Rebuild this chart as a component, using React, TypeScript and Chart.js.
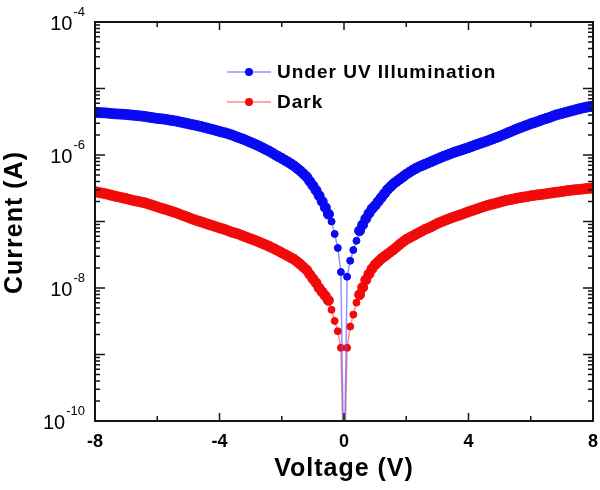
import { useEffect, useRef } from "react";
import { Chart, registerables } from "chart.js";
Chart.register(...registerables);

// Voltage sweep (V)
const voltages = [
  -8.0, -7.9, -7.8, -7.7, -7.6, -7.5, -7.4, -7.3, -7.2, -7.1,
  -7.0, -6.9, -6.8, -6.7, -6.6, -6.5, -6.4, -6.3, -6.2, -6.1,
  -6.0, -5.9, -5.8, -5.7, -5.6, -5.5, -5.4, -5.3, -5.2, -5.1,
  -5.0, -4.9, -4.8, -4.7, -4.6, -4.5, -4.4, -4.3, -4.2, -4.1,
  -4.0, -3.9, -3.8, -3.7, -3.6, -3.5, -3.4, -3.3, -3.2, -3.1,
  -3.0, -2.9, -2.8, -2.7, -2.6, -2.5, -2.4, -2.3, -2.2, -2.1,
  -2.0, -1.9, -1.8, -1.7, -1.6, -1.5, -1.4, -1.3, -1.2, -1.1,
  -1.0,
  -0.9, -0.8, -0.7, -0.6, -0.5, -0.4, -0.3, -0.2, -0.1, 0.0, 0.1, 0.2, 0.3, 0.4, 0.5, 0.6, 0.7, 0.8, 0.9,
  1.0, 1.1, 1.2, 1.3, 1.4, 1.5, 1.6, 1.7, 1.8, 1.9,
  2.0, 2.1, 2.2, 2.3, 2.4, 2.5, 2.6, 2.7, 2.8, 2.9,
  3.0, 3.1, 3.2, 3.3, 3.4, 3.5, 3.6, 3.7, 3.8, 3.9,
  4.0, 4.1, 4.2, 4.3, 4.4, 4.5, 4.6, 4.7, 4.8, 4.9,
  5.0, 5.1, 5.2, 5.3, 5.4, 5.5, 5.6, 5.7, 5.8, 5.9,
  6.0, 6.1, 6.2, 6.3, 6.4, 6.5, 6.6, 6.7, 6.8, 6.9,
  7.0, 7.1, 7.2, 7.3, 7.4, 7.5, 7.6, 7.7, 7.8, 7.9,
  8.0,
];

// Current under UV illumination (A)
const uvCurrent = [
  4.37e-6, 4.35e-6, 4.32e-6, 4.3e-6, 4.27e-6, 4.22e-6, 4.17e-6, 4.15e-6, 4.12e-6, 4.1e-6,
  4.07e-6, 4.02e-6, 3.98e-6, 3.93e-6, 3.89e-6, 3.85e-6, 3.8e-6, 3.73e-6, 3.67e-6, 3.61e-6,
  3.55e-6, 3.51e-6, 3.47e-6, 3.41e-6, 3.35e-6, 3.29e-6, 3.24e-6, 3.16e-6, 3.09e-6, 3.02e-6,
  2.95e-6, 2.88e-6, 2.82e-6, 2.75e-6, 2.69e-6, 2.61e-6, 2.54e-6, 2.47e-6, 2.4e-6, 2.33e-6,
  2.26e-6, 2.2e-6, 2.14e-6, 2.07e-6, 2.0e-6, 1.92e-6, 1.84e-6, 1.77e-6, 1.7e-6, 1.62e-6,
  1.55e-6, 1.48e-6, 1.41e-6, 1.34e-6, 1.27e-6, 1.2e-6, 1.14e-6, 1.07e-6, 1.0e-6, 9.45e-7,
  8.9e-7, 8.35e-7, 7.85e-7, 7.33e-7, 6.84e-7, 6.27e-7, 5.75e-7, 5.19e-7, 4.68e-7, 4.03e-7,
  3.47e-7,
  2.95e-7, 2.45e-7, 2.0e-7, 1.62e-7, 1.29e-7, 1.0e-7, 6.5e-8, 4.0e-8, 1.74e-8, 1e-11,
  1.48e-8, 2.57e-8, 3.72e-8, 5.13e-8, 7.24e-8, 8.91e-8, 1.1e-7, 1.32e-7, 1.55e-7,
  1.74e-7, 2.0e-7, 2.29e-7, 2.63e-7, 3.02e-7, 3.35e-7, 3.72e-7, 4.03e-7, 4.37e-7, 4.73e-7,
  5.13e-7, 5.5e-7, 5.89e-7, 6.24e-7, 6.61e-7, 6.92e-7, 7.24e-7, 7.58e-7, 7.94e-7, 8.32e-7,
  8.71e-7, 9.12e-7, 9.55e-7, 9.94e-7, 1.035e-6, 1.08e-6, 1.12e-6, 1.16e-6, 1.2e-6, 1.245e-6,
  1.29e-6, 1.345e-6, 1.4e-6, 1.455e-6, 1.51e-6, 1.565e-6, 1.62e-6, 1.69e-6, 1.76e-6, 1.83e-6,
  1.91e-6, 2.0e-6, 2.09e-6, 2.19e-6, 2.29e-6, 2.4e-6, 2.51e-6, 2.61e-6, 2.72e-6, 2.83e-6,
  2.95e-6, 3.05e-6, 3.16e-6, 3.29e-6, 3.43e-6, 3.55e-6, 3.67e-6, 3.82e-6, 3.98e-6, 4.1e-6,
  4.22e-6, 4.34e-6, 4.47e-6, 4.6e-6, 4.73e-6, 4.87e-6, 5.01e-6, 5.13e-6, 5.25e-6, 5.34e-6,
  5.43e-6,
];

// Dark current (A)
const darkCurrent = [
  2.82e-7, 2.75e-7, 2.69e-7, 2.63e-7, 2.57e-7, 2.5e-7, 2.43e-7, 2.37e-7, 2.32e-7, 2.26e-7,
  2.21e-7, 2.15e-7, 2.09e-7, 2.04e-7, 2.0e-7, 1.95e-7, 1.91e-7, 1.84e-7, 1.78e-7, 1.72e-7,
  1.66e-7, 1.6e-7, 1.55e-7, 1.5e-7, 1.45e-7, 1.4e-7, 1.35e-7, 1.3e-7, 1.245e-7, 1.2e-7,
  1.15e-7, 1.1e-7, 1.06e-7, 1.02e-7, 9.9e-8, 9.55e-8, 9.2e-8, 8.9e-8, 8.6e-8, 8.3e-8,
  8.0e-8, 7.75e-8, 7.5e-8, 7.2e-8, 6.9e-8, 6.7e-8, 6.5e-8, 6.22e-8, 5.96e-8, 5.72e-8,
  5.5e-8, 5.28e-8, 5.07e-8, 4.84e-8, 4.62e-8, 4.42e-8, 4.22e-8, 4.0e-8, 3.8e-8, 3.59e-8,
  3.39e-8, 3.2e-8, 3.02e-8, 2.85e-8, 2.69e-8, 2.47e-8, 2.26e-8, 2.05e-8, 1.86e-8, 1.6e-8,
  1.38e-8,
  1.2e-8, 1.0e-8, 8.7e-9, 7.6e-9, 6.5e-9, 4.7e-9, 3.2e-9, 2.24e-9, 1.26e-9, 1e-11,
  1.26e-9, 2.63e-9, 3.98e-9, 6.03e-9, 7.94e-9, 1.02e-8, 1.32e-8, 1.62e-8, 1.95e-8,
  2.24e-8, 2.48e-8, 2.75e-8, 2.99e-8, 3.24e-8, 3.51e-8, 3.8e-8, 4.17e-8, 4.57e-8, 4.95e-8,
  5.37e-8, 5.69e-8, 6.03e-8, 6.38e-8, 6.76e-8, 7.16e-8, 7.59e-8, 7.94e-8, 8.32e-8, 8.81e-8,
  9.33e-8, 9.77e-8, 1.02e-7, 1.065e-7, 1.11e-7, 1.155e-7, 1.2e-7, 1.245e-7, 1.29e-7, 1.345e-7,
  1.4e-7, 1.45e-7, 1.5e-7, 1.56e-7, 1.62e-7, 1.68e-7, 1.74e-7, 1.79e-7, 1.84e-7, 1.89e-7,
  1.95e-7, 2.01e-7, 2.07e-7, 2.11e-7, 2.16e-7, 2.21e-7, 2.26e-7, 2.3e-7, 2.34e-7, 2.38e-7,
  2.43e-7, 2.47e-7, 2.51e-7, 2.54e-7, 2.57e-7, 2.61e-7, 2.66e-7, 2.7e-7, 2.75e-7, 2.78e-7,
  2.82e-7, 2.87e-7, 2.92e-7, 2.95e-7, 2.99e-7, 3.02e-7, 3.05e-7, 3.09e-7, 3.13e-7, 3.16e-7,
  3.2e-7,
];

const seriesNames = ["Under UV Illumination", "Dark"];
const xMajorTicks = [-8, -4, 0, 4, 8];
const xMinorTicks = [-6, -2, 2, 6];
const yDecades = [-10, -9, -8, -7, -6, -5, -4];
const yLabelExponents = [-4, -6, -8, -10];
const xTitle = "Voltage (V)";
const yTitle = "Current (A)";

const BLUE = "#0a0af2";
const RED = "#f20a0a";
const BLUE_LINE = "rgba(90,90,255,0.65)";
const RED_LINE = "rgba(240,80,80,0.65)";

// markers are drawn smaller where they separate near 0 V
const markerRadius = (ctx: any) => {
  const raw = ctx.raw;
  if (!raw) return 5;
  return Math.abs(raw.x) <= 0.45 ? 3.5 : 5;
};

export default function App() {
  const ref = useRef<HTMLCanvasElement>(null);

  useEffect(() => {
    const canvas = ref.current!;
    const framePlugin = {
      id: "frame",
      afterDraw(chart: any) {
        const ctx = chart.ctx as CanvasRenderingContext2D;
        const { left, right, top, bottom } = chart.chartArea;
        const xs = chart.scales.x;
        const ys = chart.scales.y;
        ctx.save();
        ctx.strokeStyle = "#151515";
        ctx.lineWidth = 2;
        ctx.strokeRect(left, top, right - left, bottom - top);

        ctx.lineWidth = 1.5;
        ctx.beginPath();
        const xt = (v: number, len: number) => {
          const px = xs.getPixelForValue(v);
          ctx.moveTo(px, bottom);
          ctx.lineTo(px, bottom - len);
          ctx.moveTo(px, top);
          ctx.lineTo(px, top + len);
        };
        xMajorTicks.forEach((v) => xt(v, 8));
        xMinorTicks.forEach((v) => xt(v, 5));
        const yt = (v: number, len: number) => {
          const py = ys.getPixelForValue(v);
          ctx.moveTo(left, py);
          ctx.lineTo(left + len, py);
          ctx.moveTo(right, py);
          ctx.lineTo(right - len, py);
        };
        yDecades.forEach((d) => {
          yt(Math.pow(10, d), 10);
          if (d < -4) {
            for (let m = 2; m <= 9; m++) yt(m * Math.pow(10, d), 5);
          }
        });
        ctx.stroke();

        ctx.fillStyle = "#000";
        ctx.font = "bold 18px 'Liberation Sans', Arial, sans-serif";
        ctx.textAlign = "center";
        ctx.textBaseline = "middle";
        xMajorTicks.forEach((v) => {
          ctx.fillText(String(v), xs.getPixelForValue(v), bottom + 21);
        });

        yLabelExponents.forEach((e) => {
          const py = ys.getPixelForValue(Math.pow(10, e));
          const base = "10";
          const exp = String(e);
          ctx.font = "20px 'Liberation Sans', Arial, sans-serif";
          const wb = ctx.measureText(base).width;
          ctx.font = "13px 'Liberation Sans', Arial, sans-serif";
          const we = ctx.measureText(exp).width;
          const rightEdge = left - 11;
          const x0 = rightEdge - we - wb;
          ctx.textAlign = "left";
          ctx.textBaseline = "middle";
          ctx.font = "20px 'Liberation Sans', Arial, sans-serif";
          ctx.fillText(base, x0, py + 2);
          ctx.font = "13px 'Liberation Sans', Arial, sans-serif";
          ctx.fillText(exp, x0 + wb + 1, py - 10);
        });

        ctx.font = "bold 25px 'Liberation Sans', Arial, sans-serif";
        (ctx as any).letterSpacing = "1px";
        ctx.textAlign = "center";
        ctx.textBaseline = "middle";
        ctx.fillText(xTitle, (left + right) / 2, bottom + 48);
        ctx.save();
        ctx.translate(15, (top + bottom) / 2 + 1);
        ctx.rotate(-Math.PI / 2);
        ctx.fillText(yTitle, 0, 0);
        ctx.restore();

        (ctx as any).letterSpacing = "1px";
        const legend = [
          { name: seriesNames[0], line: BLUE_LINE, dot: BLUE, y: top + 50 },
          { name: seriesNames[1], line: RED_LINE, dot: RED, y: top + 80 },
        ];
        legend.forEach((it) => {
          ctx.strokeStyle = it.line;
          ctx.lineWidth = 1.5;
          ctx.beginPath();
          ctx.moveTo(left + 132, it.y);
          ctx.lineTo(left + 176, it.y);
          ctx.stroke();
          ctx.fillStyle = it.dot;
          ctx.beginPath();
          ctx.arc(left + 154, it.y, 4, 0, Math.PI * 2);
          ctx.fill();
          ctx.fillStyle = "#000";
          ctx.font = "bold 19px 'Liberation Sans', Arial, sans-serif";
          ctx.textAlign = "left";
          ctx.textBaseline = "middle";
          ctx.fillText(it.name, left + 182, it.y + 1);
        });
        ctx.restore();
      },
    };

    const chart = new Chart(canvas, {
      type: "line",
      data: {
        datasets: [
          {
            label: seriesNames[0],
            data: voltages.map((v, i) => ({ x: v, y: uvCurrent[i] })),
            borderColor: BLUE_LINE,
            borderWidth: 1.5,
            pointRadius: markerRadius,
            pointBorderWidth: 1,
            pointBackgroundColor: BLUE,
            pointBorderColor: BLUE,
            clip: 0,
            tension: 0,
          },
          {
            label: seriesNames[1],
            data: voltages.map((v, i) => ({ x: v, y: darkCurrent[i] })),
            borderColor: RED_LINE,
            borderWidth: 1.5,
            pointRadius: markerRadius,
            pointBorderWidth: 1,
            pointBackgroundColor: RED,
            pointBorderColor: RED,
            clip: 0,
            tension: 0,
          },
        ],
      },
      options: {
        animation: false,
        responsive: true,
        maintainAspectRatio: false,
        layout: { padding: { left: 95, right: 7, top: 22, bottom: 69 } },
        scales: {
          x: { type: "linear", min: -8, max: 8, display: false },
          y: { type: "logarithmic", min: 1e-10, max: 1e-4, display: false },
        },
        plugins: { legend: { display: false }, tooltip: { enabled: false } },
      },
      plugins: [framePlugin],
    } as any);
    return () => chart.destroy();
  }, []);

  return (
    <div style={{ position: "fixed", left: 0, top: 0, width: 600, height: 490, background: "#fff" }}>
      <canvas ref={ref} />
    </div>
  );
}
